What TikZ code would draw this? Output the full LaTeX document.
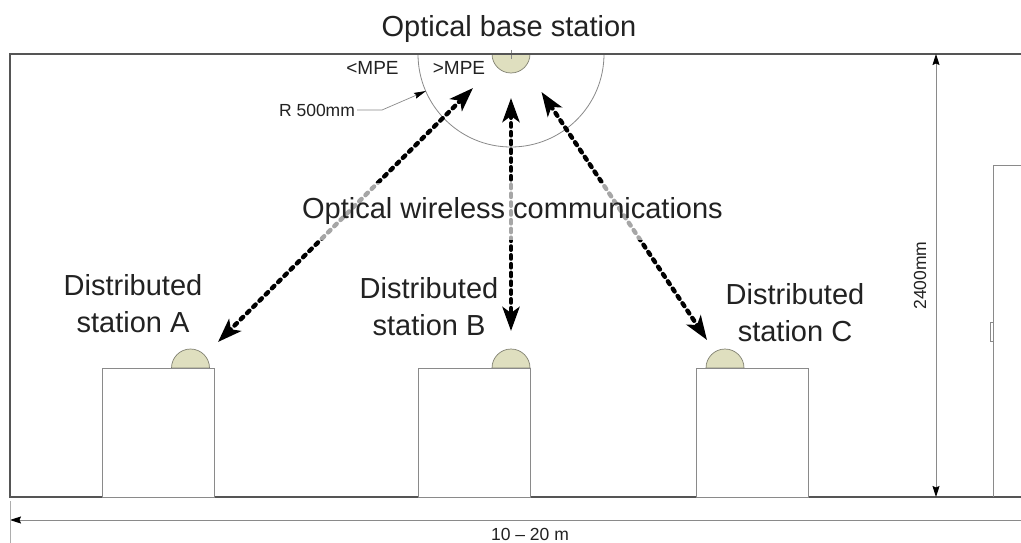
\documentclass[tikz,border=0pt]{standalone}
\usepackage{fontspec}
\setmainfont{Liberation Sans}
\usetikzlibrary{arrows.meta}
\definecolor{inkc}{HTML}{222222}
\definecolor{wallc}{HTML}{555555}
\definecolor{thinc}{HTML}{8A8A8A}
\definecolor{domec}{HTML}{DFDFBF}
\definecolor{domeline}{HTML}{808070}
\tikzset{
  big/.style={font=\fontsize{29}{37}\selectfont, text=inkc, align=center, inner sep=0pt},
  mpe/.style={font=\fontsize{19}{22}\selectfont, text=inkc, inner sep=0pt},
  small/.style={font=\fontsize{17.5}{20}\selectfont, text=inkc, inner sep=0pt},
  wall/.style={draw=wallc, line width=1.2pt},
  thin line/.style={draw=thinc, line width=0.8pt},
  cabinet/.style={draw=thinc, line width=0.9pt, fill=white, minimum width=112pt, minimum height=129pt, inner sep=0pt, outer sep=0pt},
  dome/.style={draw=domeline, line width=0.7pt, fill=domec},
  link/.style={draw=black, line width=4.4pt, line cap=round, dash pattern=on 3.4pt off 5.4pt,
     {Stealth[length=24pt,width=17pt,inset=6pt,line cap=butt]}-{Stealth[length=24pt,width=17pt,inset=6pt,line cap=butt]}},
  dim/.style={draw=thinc, line width=0.9pt},
  dimtip/.style={-{Stealth[length=11pt,width=7pt,inset=1.5pt,black]}},
  leadertip/.style={-{Stealth[length=12pt,width=6pt,inset=1.5pt,black]}}
}
\begin{document}
\begin{tikzpicture}[x=1pt,y=-1pt]
\useasboundingbox (0,0) rectangle (1021,543);
\fill[white] (0,0) rectangle (1021,543);
% coordinates
\coordinate (wallTL) at (10,54);
\coordinate (wallBL) at (10,497);
\coordinate (wallTR) at (1021,54);
\coordinate (wallBR) at (1021,497);
\coordinate (baseA) at (473,88);
\coordinate (baseB) at (511,98);
\coordinate (baseC) at (541.5,92);
\coordinate (stA) at (218,342);
\coordinate (stB) at (511,331);
\coordinate (stC) at (707,340);
% MPE circle
\draw[thin line] (418,54) arc[start angle=180,end angle=360,radius=93pt];
% base station dome
\draw[dome] (492,54) arc[start angle=180,end angle=360,radius=19pt];
\draw[thin line, line width=0.5pt] (511,50) -- (511,59);
% walls
\draw[wall] (wallTR) -- (wallTL) -- (wallBL) -- (wallBR);
% domes and cabinets
\draw[dome] (171.5,368) arc[start angle=180,end angle=0,radius=19pt] -- cycle;
\draw[dome] (492,368) arc[start angle=180,end angle=0,radius=19pt] -- cycle;
\draw[dome] (706,368) arc[start angle=180,end angle=0,radius=19pt] -- cycle;
\node[cabinet] (boxA) at (158,432.5) {};
\node[cabinet] (boxB) at (474,432.5) {};
\node[cabinet] (boxC) at (752.5,432.5) {};
% door
\draw[thin line] (1021,165) -- (993,165) -- (993,497);
\draw[thin line, line width=0.6pt] (993,322) -- (990,322) -- (990,341) -- (993,341);
% bidirectional links
\draw[link] (baseA) -- (stA);
\draw[link] (baseB) -- (stB);
\draw[link] (baseC) -- (stC);
% texts
\node[big, fill=white, fill opacity=.65, text opacity=1, minimum width=425pt, minimum height=57pt] (owc) at (512.5,211) {Optical wireless communications};
\node[big] (title) at (509,29) {Optical base station};
\node[big] (labA) at (133,304) {Distributed\\station A};
\node[big] (labB) at (429,306.5) {Distributed\\station B};
\node[big] (labC) at (795,312.5) {Distributed\\station C};
\node[mpe] (ltmpe) at (372.5,68) {<MPE};
\node[mpe] (gtmpe) at (459,68) {>MPE};
\node[small] (rlab) at (317,110) {R 500mm};
% leader
\coordinate (rbend) at (382,110);
\coordinate (rtip) at (426,91);
\draw[thin line, line width=0.7pt, leadertip] (rlab.east) ++(2,0) -- (rbend) -- (rtip);
% dimensions
\coordinate (dimT) at (936,54);
\coordinate (dimB) at (936,497);
\draw[dim, dimtip] (936,275) -- (dimT);
\draw[dim, dimtip] (936,275) -- (dimB);
\node[small, rotate=90] (hgt) at (920,275.5) {2400mm};
\coordinate (dimL) at (10,520);
\coordinate (dimR) at (1021,520);
\draw[dim, dimtip] (dimR) -- (dimL);
\draw[draw=thinc!70, line width=1pt] (10,501) -- (10,543);
\node[small] (span) at (530,534) {10 – 20 m};
\end{tikzpicture}
\end{document}
